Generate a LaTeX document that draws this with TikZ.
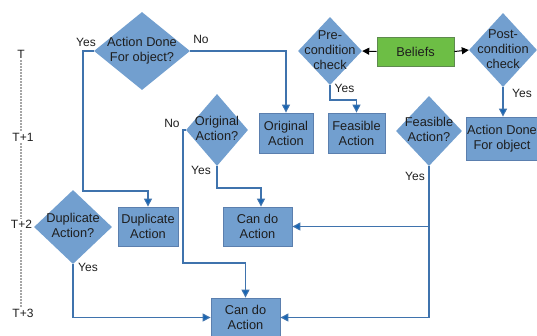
\documentclass[tikz,border=0pt]{standalone}
\usepackage{fontspec}
\setmainfont{Liberation Sans}
\usetikzlibrary{shapes.geometric,arrows.meta,calc}
\definecolor{boxfill}{HTML}{729FCF}
\definecolor{boxline}{HTML}{5B7FAE}
\definecolor{connline}{HTML}{3F73AD}
\definecolor{arrowc}{HTML}{1565B5}
\definecolor{belfill}{HTML}{6DBE45}
\definecolor{belline}{HTML}{5E8A4E}
\definecolor{txt}{HTML}{1E1E1E}
\newcommand{\dtxt}[1]{\makebox[0pt]{\begin{tabular}{@{}c@{}}#1\end{tabular}}}
\tikzset{
  every node/.style={text=txt},
  dia/.style 2 args={diamond, fill=boxfill, draw=none, inner sep=0pt, aspect=1,
    minimum width=#1, minimum height=#2, font=\fontsize{12.8}{15}\selectfont},
  abox/.style 2 args={rectangle, fill=boxfill, draw=boxline, line width=0.8pt, inner sep=0pt,
    minimum width=#1, minimum height=#2, align=center, font=\fontsize{12.8}{15}\selectfont},
  lbl/.style={font=\fontsize{12}{14}\selectfont, inner sep=0pt},
  tlbl/.style={font=\fontsize{12}{14}\selectfont, inner sep=1.5pt},
  conn/.style={draw=connline, line width=1.1pt, -{Triangle[length=8pt,width=8pt,fill=arrowc]}},
  plain/.style={draw=connline, line width=1.1pt},
  barr/.style={draw=black, line width=1pt, -{Triangle[length=7pt,width=7pt]}},
  tline/.style={draw=gray!70, line width=1.2pt, dash pattern=on 1.5pt off 1.5pt},
}
\begin{document}
\begin{tikzpicture}[x=1pt,y=-1pt]
\useasboundingbox (0,0) rectangle (537,335);
% time labels
\node[tlbl] (T0) at (21,54.5) {T};
\node[tlbl] (T1) at (23,137.5) {T+1};
\node[tlbl] (T2) at (21.5,224.5) {T+2};
\node[tlbl] (T3) at (23,313) {T+3};
\draw[tline] (T0.south -| 21,0) -- (T1.north -| 21,0);
\draw[tline] (T1.south -| 21,0) -- (T2.north -| 21,0);
\draw[tline] (T2.south -| 21,0) -- (T3.north -| 21,0);
% diamonds
\node[dia={96}{78}] (d1) at (142,51) {\dtxt{Action Done\\For object?}};
\node[dia={64}{68}] (pre) at (330,51) {\dtxt{Pre-\\condition\\check}};
\node[dia={68}{74}] (post) at (503,50) {\dtxt{Post-\\condition\\check}};
\node[dia={62}{72}] (oq) at (217,130) {\dtxt{Original\\Action?}};
\node[dia={66}{70}] (fq) at (429,131) {\dtxt{Feasible\\Action?}};
\node[dia={78}{74}] (dq) at (73,227) {\dtxt{Duplicate\\Action?}};
% boxes
\node[abox={54}{40}] (orig) at (286,133) {Original\\Action};
\node[abox={57}{40}] (feas) at (356.5,133) {Feasible\\Action};
\node[abox={72}{43}] (ad) at (502,138.5) {Action Done\\For object};
\node[abox={77}{29}, fill=belfill, draw=belline] (bel) at (415.5,51.5) {Beliefs};
\node[abox={60}{39}] (dup) at (148,226.5) {Duplicate\\Action};
\node[abox={69}{39}] (can1) at (257.5,226.5) {Can do\\Action};
\node[abox={69}{39}] (can2) at (245.5,317.5) {Can do\\Action};
% connectors
\draw[conn] (d1.west) -- (83,51) -- (83,191) -| (dup.north);
\draw[conn] (d1.east) -| (orig.north);
\draw[conn] (pre.south) -- (330,100) -| (feas.north);
\draw[conn] (post.south) -- (post.south |- ad.north);
\draw[barr] (bel.west) -- (pre.east);
\draw[barr] (bel.east) -- (post.west);
\draw[conn] (oq.west) -- (183,130) -- (183,263) -| (can2.north);
\draw[conn] (oq.south) -- (217,188) -| ([xshift=3.5pt]can1.north);
\draw[conn] (fq.south) |- (can2.east);
\draw[conn] (fq.south |- can1.east) -- (can1.east);
\draw[conn] (dq.south) |- (can2.west);
% labels
\node[lbl] (l1) at (86,42) {Yes};
\node[lbl] (l2) at (201,39) {No};
\node[lbl] (l3) at (172,123) {No};
\node[lbl] (l4) at (201,170) {Yes};
\node[lbl] (l5) at (344.5,88) {Yes};
\node[lbl] (l6) at (522,93) {Yes};
\node[lbl] (l7) at (415,176) {Yes};
\node[lbl] (l8) at (88,267) {Yes};
\end{tikzpicture}
\end{document}
